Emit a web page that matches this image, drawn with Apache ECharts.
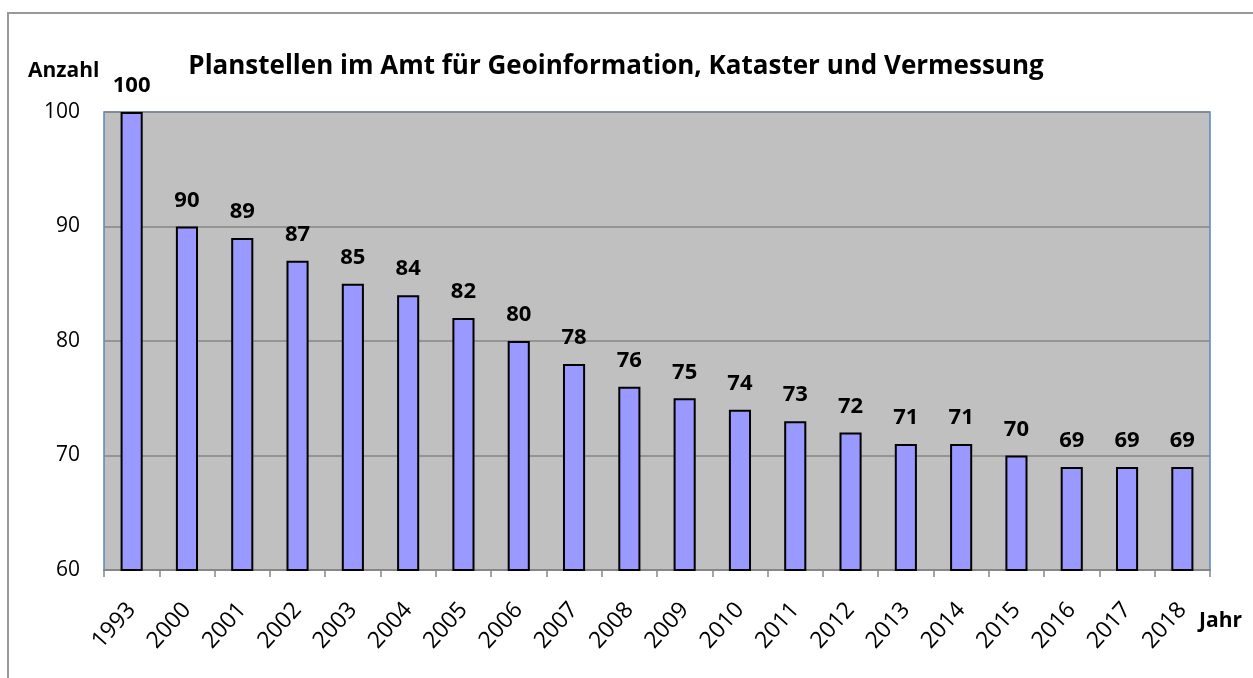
<!DOCTYPE html>
<html>
<head>
<meta charset="utf-8">
<script src="https://cdn.jsdelivr.net/npm/echarts@6/dist/echarts.min.js"></script>
<style>
html,body{margin:0;padding:0;background:#fff;}
#chart{width:1253px;height:678px;}
</style>
</head>
<body>
<div id="chart"></div>
<script>
var years = ['1993','2000','2001','2002','2003','2004','2005','2006','2007','2008','2009','2010','2011','2012','2013','2014','2015','2016','2017','2018'];
var stellen = [100, 90, 89, 87, 85, 84, 82, 80, 78, 76, 75, 74, 73, 72, 71, 71, 70, 69, 69, 69];
var yTicks = [60, 70, 80, 90, 100];

var font = '"Open Sans", "Noto Sans", sans-serif';

var myChart = echarts.init(document.getElementById('chart'));
var option = {
    animation: false,
    textStyle: { fontFamily: font },
    title: {
        text: 'Planstellen im Amt für Geoinformation, Kataster und Vermessung',
        left: 611,
        top: 49,
        textAlign: 'center',
        textStyle: { fontFamily: font, fontSize: 26, fontWeight: 'bold', color: '#000' }
    },
    graphic: [
        {//外框
            type: 'polyline',
            shape: { points: [[8, 700], [8, 13], [1270, 13]] },
            style: { stroke: '#999', lineWidth: 2, fill: null }
        },
        {
            type: 'text', left: 28, top: 61,
            style: { text: 'Anzahl', fontFamily: font, fontSize: 21, fontWeight: 'bold', fill: '#000' }
        },
        {
            type: 'text', left: 1199, top: 611,
            style: { text: 'Jahr', fontFamily: font, fontSize: 21, fontWeight: 'bold', fill: '#000' }
        }
    ],
    grid: {
        left: 104,
        right: 43,
        top: 112,
        bottom: 108,
        show: true,
        backgroundColor: '#c0c0c0',
        borderColor: '#5b86c4',
        borderWidth: 1.5
    },
    xAxis: {
        type: 'category',
        data: years,
        axisLine: { lineStyle: { color: '#868686', width: 2 } },
        axisTick: { show: true, length: 7, lineStyle: { color: '#868686', width: 1.5 } },
        axisLabel: { rotate: 48, fontSize: 23, color: '#000', margin: 36, interval: 0 }
    },
    yAxis: {
        type: 'value',
        min: yTicks[0],
        max: yTicks[yTicks.length - 1],
        interval: 10,
        axisLine: { show: false },
        axisTick: { show: false },
        axisLabel: { fontSize: 21, color: '#000', margin: 24 },
        splitLine: { lineStyle: { color: '#868686', width: 1.5 } }
    },
    series: [
        {
            type: 'bar',
            data: stellen,
            barWidth: '40%',
            itemStyle: { color: '#9999ff', borderColor: '#000', borderWidth: 2 },
            label: {
                show: true,
                position: 'top',
                distance: 15,
                fontSize: 22,
                fontWeight: 'bold',
                color: '#000',
                fontFamily: font
            }
        }
    ]
};
myChart.setOption(option);
</script>
</body>
</html>
